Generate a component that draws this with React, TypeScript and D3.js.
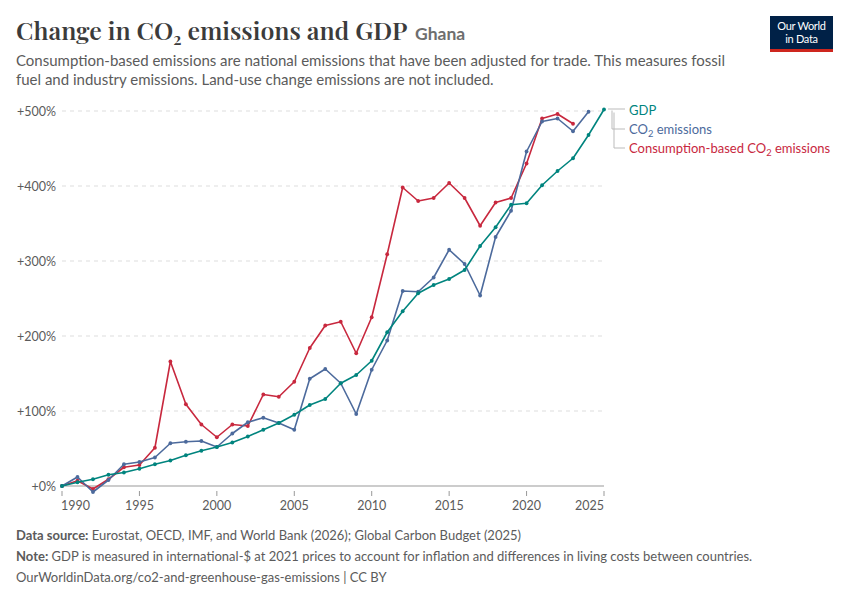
import React from 'react';
import * as d3 from 'd3';

const years = d3.range(1990, 2026);

// percent change since 1990
const gdp = [0, 5, 9, 15, 18, 23, 29, 34, 41, 47, 52, 58, 66, 75, 84, 95, 108, 116, 137, 148, 167, 205, 233, 257, 268, 276, 288, 320, 345, 375, 377, 401, 420, 437, 468, 502];
const co2 = [0, 12, -8, 8, 29, 32, 38, 57, 59, 60, 52, 70, 85, 91, 84, 75, 143, 156, 137, 96, 155, 194, 260, 259, 278, 315, 296, 254, 332, 367, 446, 486, 490, 473, 499];
const consumption = [0, 7, -4, 9, 25, 28, 51, 166, 109, 82, 65, 82, 80, 122, 119, 139, 184, 214, 219, 177, 225, 309, 398, 380, 384, 404, 384, 347, 378, 384, 430, 490, 496, 483];

const yTicks = [0, 100, 200, 300, 400, 500];
const xTicks = [1990, 1995, 2000, 2005, 2010, 2015, 2020, 2025];

const series = [
  { key: 'cons', values: consumption, color: '#c8283e' },
  { key: 'co2', values: co2, color: '#4c6a9c' },
  { key: 'gdp', values: gdp, color: '#00847e' },
];

const W = 850;
const H = 600;
const margin = { left: 62, right: 246, top: 111, bottom: 114 };

export default function App() {
  const x = d3.scaleLinear().domain([1990, 2025]).range([margin.left, W - margin.right]);
  const y = d3.scaleLinear().domain([0, 500]).range([H - margin.bottom, margin.top]);

  const line = d3.line<number>()
    .x((_, i) => x(years[i]))
    .y((d) => y(d));

  const font = 'Lato, "Noto Sans", sans-serif';
  const grey = '#5b5b5b';

  const Sub = () => <tspan fontSize="0.72em" dy="3">2</tspan>;

  return (
    <svg width={W} height={H} viewBox={`0 0 ${W} ${H}`}
      style={{ position: 'absolute', left: 0, top: 0, background: '#fff', fontFamily: font }}>
      {/* header */}
      <text x={16} y={40} fontFamily='"Playfair Display", "Liberation Serif", serif' fontSize={24.9} fontWeight={600} fill="#3b3b3b">
        Change in CO<tspan fontSize="0.65em" dy="5">2</tspan><tspan dy="-5"> emissions and GDP</tspan>
      </text>
      <text x={415} y={40} fontSize={17.5} fontWeight={700} fill="#6e6e6e">Ghana</text>
      <text x={16} y={66} fontSize={15} fill={grey}>
        Consumption-based emissions are national emissions that have been adjusted for trade. This measures fossil
      </text>
      <text x={16} y={85} fontSize={15} fill={grey}>
        fuel and industry emissions. Land-use change emissions are not included.
      </text>

      {/* logo */}
      <rect x={770} y={16} width={63} height={36} fill="#002147" />
      <rect x={770} y={49} width={63} height={3} fill="#ce261e" />
      <text x={801.5} y={30} fontSize={11} fill="#fff" textAnchor="middle" letterSpacing={-0.3}>Our World</text>
      <text x={801.5} y={43} fontSize={11} fill="#fff" textAnchor="middle" letterSpacing={-0.3}>in Data</text>

      {/* grid + y axis */}
      {yTicks.map((t) => (
        <g key={t}>
          {t > 0 && (
            <line x1={margin.left} x2={W - margin.right} y1={y(t)} y2={y(t)}
              stroke="#dddddd" strokeDasharray="4 4" />
          )}
          <text x={56} y={y(t) + 4.5} fontSize={12.5} fill={grey} textAnchor="end">+{t}%</text>
        </g>
      ))}

      {/* x axis */}
      <line x1={margin.left} x2={W - margin.right} y1={y(0)} y2={y(0)} stroke="#999" />
      {xTicks.map((t, i) => (
        <g key={t}>
          <line x1={x(t)} x2={x(t)} y1={y(0) + 5} y2={y(0) + 10} stroke="#999" />
          <text x={x(t)} y={y(0) + 24} fontSize={12.5} fill={grey}
            textAnchor={i === 0 ? 'start' : i === xTicks.length - 1 ? 'end' : 'middle'}
            dx={i === 0 ? -1 : 0}>{t}</text>
        </g>
      ))}

      {/* lines */}
      {series.map((s) => (
        <g key={s.key}>
          <path d={line(s.values) || ''} fill="none" stroke={s.color} strokeWidth={1.6} strokeLinejoin="round" />
          {s.values.map((v, i) => (
            <circle key={i} cx={x(years[i])} cy={y(v)} r={1.9} fill={s.color} />
          ))}
        </g>
      ))}

      {/* legend connectors */}
      <g stroke="#bbbbbb" fill="none" strokeWidth={1}>
        <path d={`M${x(2025) + 4},${y(gdp[35]) - 0.5} H${625}`} />
        <path d={`M${x(2025) + 8},${y(gdp[35]) + 1} V${129} H${625}`} />
        <path d={`M${x(2025) + 10},${y(gdp[35]) + 3} V${148} H${625}`} />
      </g>
      <text x={629} y={115} fontSize={13} fill="#00847e">GDP</text>
      <text x={629} y={134} fontSize={13} fill="#4c6a9c">CO<Sub /><tspan dy="-3"> emissions</tspan></text>
      <text x={629} y={153} fontSize={13} fill="#c8283e">Consumption-based CO<Sub /><tspan dy="-3"> emissions</tspan></text>

      {/* footer */}
      <text x={16} y={540} fontSize={13} fill={grey}>
        <tspan fontWeight={700}>Data source:</tspan> Eurostat, OECD, IMF, and World Bank (2026); Global Carbon Budget (2025)
      </text>
      <text x={16} y={561} fontSize={13} fill={grey}>
        <tspan fontWeight={700}>Note:</tspan> GDP is measured in international-$ at 2021 prices to account for inflation and differences in living costs between countries.
      </text>
      <text x={16} y={582} fontSize={13} fill={grey}>
        OurWorldinData.org/co2-and-greenhouse-gas-emissions | CC BY
      </text>
    </svg>
  );
}
